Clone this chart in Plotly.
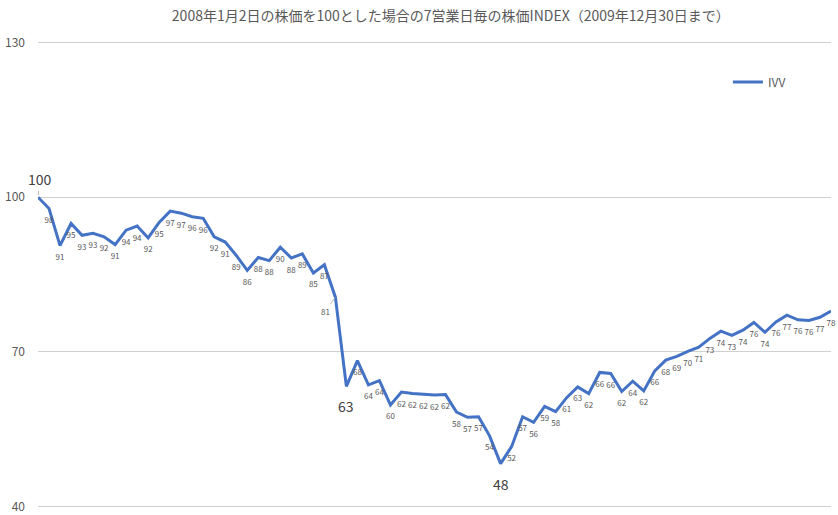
import plotly.graph_objects as go

# 7営業日毎の株価INDEX (2008-01-02 = 100)
points = list(range(73))
ivv = [100, 97.8, 90.6, 94.9, 92.6, 93.0, 92.3, 90.8, 93.6, 94.4,
       92.1, 95.1, 97.3, 96.9, 96.2, 95.9, 92.3, 91.3, 88.7, 85.8,
       88.3, 87.7, 90.3, 88.2, 89.0, 85.3, 86.9, 80.6, 63.3, 68.3,
       63.6, 64.4, 59.7, 62.2, 61.9, 61.7, 61.6, 61.7, 58.3, 57.3,
       57.4, 53.7, 48.3, 51.6, 57.4, 56.3, 59.4, 58.4, 61.1, 63.2,
       61.9, 66.0, 65.8, 62.3, 64.3, 62.4, 66.3, 68.4, 69.1, 70.1,
       70.9, 72.6, 74.0, 73.2, 74.2, 75.7, 73.8, 75.8, 77.1, 76.2,
       76.1, 76.7, 77.9]
highlight = [0, 28, 42]   # big labels: start, first low, bottom
leader = [27]             # small label with leader line
y_ticks = [40, 70, 100, 130]

title = "2008年1月2日の株価を100とした場合の7営業日毎の株価INDEX（2009年12月30日まで）"
FONT = "Noto Sans CJK JP, Noto Sans, sans-serif"
GRAY = "#595959"

labels = ["" if i in highlight or i in leader else f"{v:.0f}" for i, v in enumerate(ivv)]

fig = go.Figure()
fig.add_scatter(
    x=points, y=ivv, name="IVV", mode="lines+markers+text",
    line=dict(color="#4472C4", width=3),
    # invisible markers only push the labels a bit further below the line
    marker=dict(size=12, color="rgba(0,0,0,0)"),
    text=labels, textposition="bottom center",
    textfont=dict(size=8, color=GRAY, family=FONT),
    cliponaxis=False,
)

annotations = []
for i in highlight:
    big = dict(x=points[i], y=ivv[i], text=f"{ivv[i]:.0f}", showarrow=False,
               font=dict(size=14, color="#404040", family=FONT))
    if i == 0:
        big.update(showarrow=True, arrowhead=0, arrowwidth=0.8, arrowcolor="#a6a6a6",
                   ax=2, ay=-18, standoff=2)
    else:
        big.update(yshift=-20)
    annotations.append(big)
for i in leader:
    annotations.append(dict(x=points[i], y=ivv[i], text=f"{ivv[i]:.0f}", showarrow=True,
                            arrowhead=0, arrowwidth=0.8, arrowcolor="#a6a6a6",
                            ax=-10, ay=14, font=dict(size=8, color=GRAY, family=FONT)))

fig.update_layout(
    width=838, height=515,
    margin=dict(l=38, r=7, t=41, b=7),
    paper_bgcolor="white", plot_bgcolor="white",
    font=dict(family=FONT, color=GRAY),
    title=dict(text=title, x=0.538, xanchor="center", y=1 - 16 / 515, yanchor="middle",
               yref="container", font=dict(size=14, color=GRAY, family=FONT)),
    xaxis=dict(range=[points[0], points[-1]], visible=False, automargin=False),
    # pad the range a hair so the 40 and 130 gridlines are still drawn
    yaxis=dict(range=[y_ticks[0] - 0.3, y_ticks[-1] + 0.3], tickvals=y_ticks, showgrid=True,
               gridcolor="#d0d0d0", gridwidth=1, zeroline=False, showline=False,
               automargin=False, ticks="", ticklabelstandoff=12,
               tickfont=dict(size=12, color=GRAY)),
    legend=dict(x=0.87, y=0.912, xanchor="left", yanchor="middle",
                bgcolor="rgba(0,0,0,0)", font=dict(size=12, color=GRAY),
                itemwidth=30),
    annotations=annotations,
    showlegend=True,
)

# drop the browser's default body margin so the figure sits at the page corner
fig.write_html("out.html", config={"displayModeBar": False},
               post_script="document.body.style.margin='0';")
